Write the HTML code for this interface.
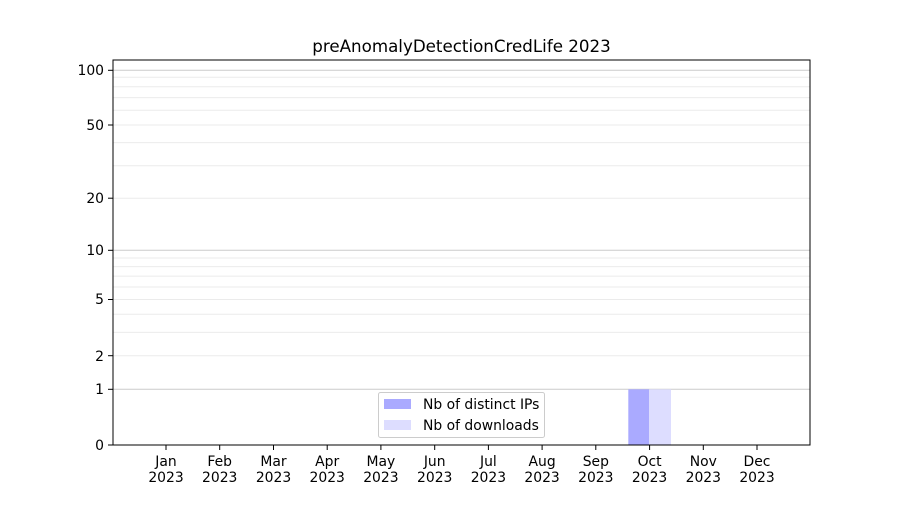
<!DOCTYPE html>
<html><head><meta charset="utf-8"><style>body{margin:0;background:#fff}</style></head><body>
<svg width="900" height="500" xmlns="http://www.w3.org/2000/svg" font-family="DejaVu Sans, Liberation Sans, sans-serif" font-size="13.9">
<rect width="900" height="500" fill="#fff"/>
<text x="461.5" y="52" text-anchor="middle" font-size="16.7">preAnomalyDetectionCredLife 2023</text>
<g stroke="#ebebeb" stroke-width="1">
<line x1="113" x2="810" y1="355.7" y2="355.7"/>
<line x1="113" x2="810" y1="332.4" y2="332.4"/>
<line x1="113" x2="810" y1="314.3" y2="314.3"/>
<line x1="113" x2="810" y1="299.5" y2="299.5"/>
<line x1="113" x2="810" y1="287.0" y2="287.0"/>
<line x1="113" x2="810" y1="276.1" y2="276.1"/>
<line x1="113" x2="810" y1="266.6" y2="266.6"/>
<line x1="113" x2="810" y1="258.0" y2="258.0"/>
<line x1="113" x2="810" y1="198.2" y2="198.2"/>
<line x1="113" x2="810" y1="165.8" y2="165.8"/>
<line x1="113" x2="810" y1="142.6" y2="142.6"/>
<line x1="113" x2="810" y1="125.0" y2="125.0"/>
<line x1="113" x2="810" y1="110.2" y2="110.2"/>
<line x1="113" x2="810" y1="97.6" y2="97.6"/>
<line x1="113" x2="810" y1="86.7" y2="86.7"/>
<line x1="113" x2="810" y1="77.2" y2="77.2"/>
</g>
<g stroke="#cccccc" stroke-width="1">
<line x1="113" x2="810" y1="389.3" y2="389.3"/>
<line x1="113" x2="810" y1="250.3" y2="250.3"/>
<line x1="113" x2="810" y1="70.3" y2="70.3"/>
</g>
<rect x="628.3" y="389.3" width="20.9" height="55.7" fill="#aaaaff"/>
<rect x="649.2" y="389.3" width="21.8" height="55.7" fill="#ddddff"/>
<rect x="113" y="60" width="697" height="385" fill="none" stroke="#000" stroke-width="1"/>
<g stroke="#000">
<line x1="108" x2="113" y1="445" y2="445"/><line x1="108" x2="113" y1="389.3" y2="389.3"/>
<line x1="108" x2="113" y1="355.7" y2="355.7"/><line x1="108" x2="113" y1="299.5" y2="299.5"/>
<line x1="108" x2="113" y1="250.3" y2="250.3"/><line x1="108" x2="113" y1="198.2" y2="198.2"/>
<line x1="108" x2="113" y1="125.0" y2="125.0"/><line x1="108" x2="113" y1="70.3" y2="70.3"/>
</g>
<g text-anchor="end">
<text x="104" y="450">0</text><text x="104" y="394">1</text><text x="104" y="361">2</text>
<text x="104" y="304">5</text><text x="104" y="255">10</text><text x="104" y="203">20</text>
<text x="104" y="130">50</text><text x="104" y="75">100</text>
</g>
<g text-anchor="middle">
<g stroke="#000">
<line x1="166" x2="166" y1="445" y2="450"/><line x1="219.7" x2="219.7" y1="445" y2="450"/>
<line x1="273.5" x2="273.5" y1="445" y2="450"/><line x1="327.2" x2="327.2" y1="445" y2="450"/>
<line x1="380.9" x2="380.9" y1="445" y2="450"/><line x1="434.7" x2="434.7" y1="445" y2="450"/>
<line x1="488.4" x2="488.4" y1="445" y2="450"/><line x1="542.1" x2="542.1" y1="445" y2="450"/>
<line x1="595.8" x2="595.8" y1="445" y2="450"/><line x1="649.6" x2="649.6" y1="445" y2="450"/>
<line x1="703.3" x2="703.3" y1="445" y2="450"/><line x1="757" x2="757" y1="445" y2="450"/>
</g>
<text x="166" y="466">Jan</text><text x="166" y="482">2023</text>
<text x="219.7" y="466">Feb</text><text x="219.7" y="482">2023</text>
<text x="273.5" y="466">Mar</text><text x="273.5" y="482">2023</text>
<text x="327.2" y="466">Apr</text><text x="327.2" y="482">2023</text>
<text x="380.9" y="466">May</text><text x="380.9" y="482">2023</text>
<text x="434.7" y="466">Jun</text><text x="434.7" y="482">2023</text>
<text x="488.4" y="466">Jul</text><text x="488.4" y="482">2023</text>
<text x="542.1" y="466">Aug</text><text x="542.1" y="482">2023</text>
<text x="595.8" y="466">Sep</text><text x="595.8" y="482">2023</text>
<text x="649.6" y="466">Oct</text><text x="649.6" y="482">2023</text>
<text x="703.3" y="466">Nov</text><text x="703.3" y="482">2023</text>
<text x="757" y="466">Dec</text><text x="757" y="482">2023</text>
</g>
<rect x="378.5" y="392.5" width="166" height="45" rx="2" fill="#fff" fill-opacity="0.8" stroke="#cccccc"/>
<rect x="384" y="399" width="27" height="10" fill="#aaaaff"/>
<rect x="384" y="420" width="27" height="10" fill="#ddddff"/>
<text x="423" y="409">Nb of distinct IPs</text>
<text x="423" y="430">Nb of downloads</text>
</svg>
</body></html>
